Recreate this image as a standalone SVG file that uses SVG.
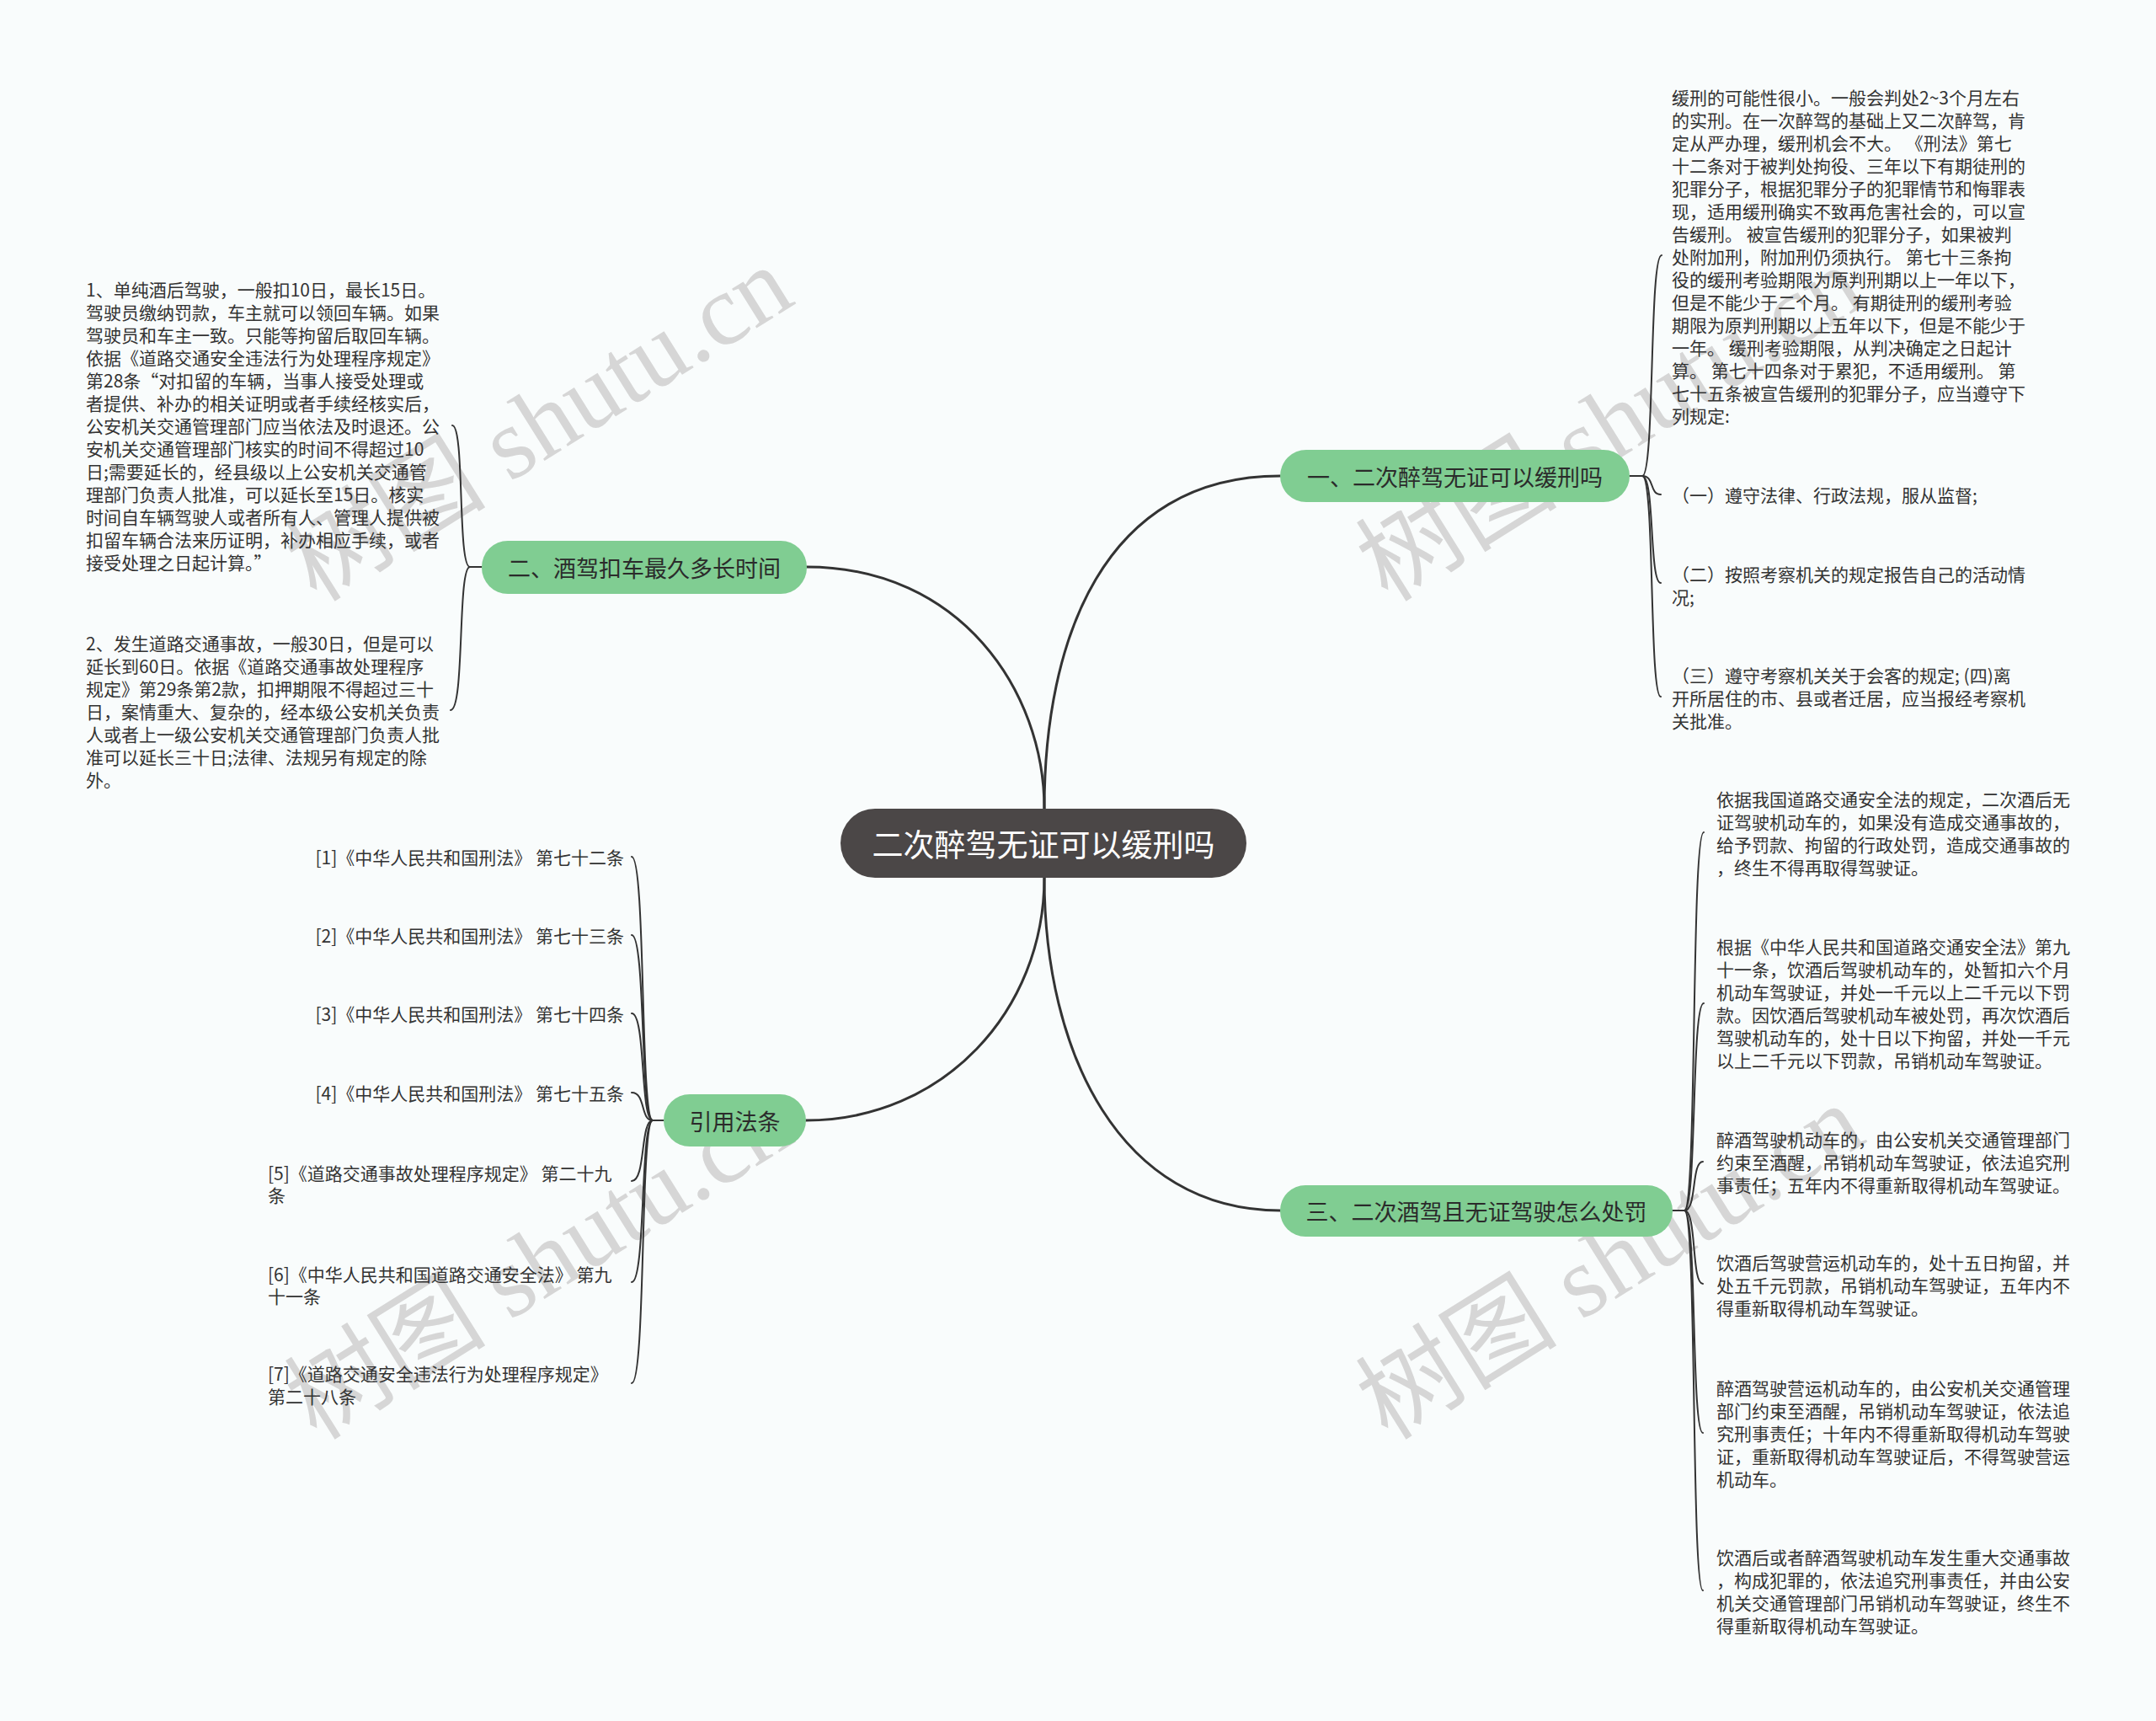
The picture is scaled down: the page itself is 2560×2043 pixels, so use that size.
<svg xmlns="http://www.w3.org/2000/svg" width="2560" height="2043" viewBox="0 0 2560 2043">
<style>
.bg{fill:#f9fcfc}
.wm{font-family:"Liberation Serif","Noto Sans CJK SC",serif;font-size:120px;fill:#d6d6d6}
.center{fill:#4b4747}
.ctext{font-family:"Noto Sans CJK SC",sans-serif;font-size:37px;fill:#ffffff;text-anchor:middle;dominant-baseline:central}
.main{fill:#80cd92}
.mtext{font-family:"Noto Sans CJK SC",sans-serif;font-size:27px;fill:#2b2b2b;text-anchor:middle;dominant-baseline:central}
.leaf{font-family:"Noto Sans CJK SC",sans-serif;font-size:21px;fill:#333333;dominant-baseline:central}
.c1{fill:none;stroke:#333333;stroke-width:3;stroke-linecap:round}
.c2{fill:none;stroke:#333333;stroke-width:2;stroke-linecap:round}
</style>
<rect class="bg" x="0" y="0" width="2560" height="2043"/>
<g id="watermarks">
<text class="wm" transform="translate(376,716) rotate(-32)">树图 shutu.cn</text>
<text class="wm" transform="translate(1648,716) rotate(-32)">树图 shutu.cn</text>
<text class="wm" transform="translate(376,1711) rotate(-32)">树图 shutu.cn</text>
<text class="wm" transform="translate(1648,1711) rotate(-32)">树图 shutu.cn</text>
</g>
<g id="connectors">
<path class="c1" d="M1240,960 C1240,760 1310,565 1520,565"/>
<path class="c1" d="M1240,960 C1240,820 1140,673 958,673"/>
<path class="c1" d="M1240,1042 C1240,1200 1120,1330 957,1330"/>
<path class="c1" d="M1240,1042 C1240,1250 1330,1437 1520,1437"/>
<path class="c2" d="M1935,565 L1950,565"/>
<path class="c2" d="M1950,565 C1965,565 1958,303 1973,303"/>
<path class="c2" d="M1950,565 C1965,565 1958,587 1972,587"/>
<path class="c2" d="M1950,565 C1965,565 1958,692 1972,692"/>
<path class="c2" d="M1950,565 C1965,565 1958,827 1972,827"/>
<path class="c2" d="M1986,1437 L2000,1437"/>
<path class="c2" d="M2000,1437 C2015,1437 2008,988 2023,988"/>
<path class="c2" d="M2000,1437 C2015,1437 2008,1191 2023,1191"/>
<path class="c2" d="M2000,1437 C2015,1437 2008,1379 2022,1379"/>
<path class="c2" d="M2000,1437 C2015,1437 2008,1524 2022,1524"/>
<path class="c2" d="M2000,1437 C2015,1437 2008,1701 2022,1701"/>
<path class="c2" d="M2000,1437 C2015,1437 2008,1888 2022,1888"/>
<path class="c2" d="M572,673 L558,673"/>
<path class="c2" d="M558,673 C543,673 552,505 537,505"/>
<path class="c2" d="M558,673 C543,673 552,843 535,843"/>
<path class="c2" d="M788,1330 L775,1330"/>
<path class="c2" d="M775,1330 C760,1330 767,1017 750,1017"/>
<path class="c2" d="M775,1330 C760,1330 767,1110 750,1110"/>
<path class="c2" d="M775,1330 C760,1330 767,1203 750,1203"/>
<path class="c2" d="M775,1330 C760,1330 767,1297 750,1297"/>
<path class="c2" d="M775,1330 C760,1330 767,1402 750,1402"/>
<path class="c2" d="M775,1330 C760,1330 767,1522 750,1522"/>
<path class="c2" d="M775,1330 C760,1330 767,1642 750,1642"/>
</g>
<g id="node-center">
<rect class="center" x="998" y="960" width="482" height="82" rx="41"/>
<text class="ctext" x="1239" y="1001">二次醉驾无证可以缓刑吗</text>
</g>
<g id="node-1">
<rect class="main" x="1520" y="534" width="415" height="62" rx="31"/>
<text class="mtext" x="1727.5" y="565">一、二次醉驾无证可以缓刑吗</text>
</g>
<g id="node-2">
<rect class="main" x="572" y="642" width="386" height="63" rx="31"/>
<text class="mtext" x="765" y="673">二、酒驾扣车最久多长时间</text>
</g>
<g id="node-3">
<rect class="main" x="1520" y="1407" width="466" height="61" rx="30"/>
<text class="mtext" x="1753" y="1437">三、二次酒驾且无证驾驶怎么处罚</text>
</g>
<g id="node-4">
<rect class="main" x="788" y="1299" width="169" height="62" rx="31"/>
<text class="mtext" x="872.5" y="1330">引用法条</text>
</g>
<g id="leaf-2-1">
<text class="leaf">
<tspan x="102" y="343">1、单纯酒后驾驶，一般扣10日，最长15日。</tspan>
<tspan x="102" y="370">驾驶员缴纳罚款，车主就可以领回车辆。如果</tspan>
<tspan x="102" y="397">驾驶员和车主一致。只能等拘留后取回车辆。</tspan>
<tspan x="102" y="424">依据《道路交通安全违法行为处理程序规定》</tspan>
<tspan x="102" y="451">第28条“对扣留的车辆，当事人接受处理或</tspan>
<tspan x="102" y="478">者提供、补办的相关证明或者手续经核实后，</tspan>
<tspan x="102" y="505">公安机关交通管理部门应当依法及时退还。公</tspan>
<tspan x="102" y="532">安机关交通管理部门核实的时间不得超过10</tspan>
<tspan x="102" y="559">日;需要延长的，经县级以上公安机关交通管</tspan>
<tspan x="102" y="586">理部门负责人批准，可以延长至15日。核实</tspan>
<tspan x="102" y="613">时间自车辆驾驶人或者所有人、管理人提供被</tspan>
<tspan x="102" y="640">扣留车辆合法来历证明，补办相应手续，或者</tspan>
<tspan x="102" y="667">接受处理之日起计算。”</tspan>
</text>
</g>
<g id="leaf-2-2">
<text class="leaf">
<tspan x="102" y="763">2、发生道路交通事故，一般30日，但是可以</tspan>
<tspan x="102" y="790">延长到60日。依据《道路交通事故处理程序</tspan>
<tspan x="102" y="817">规定》第29条第2款，扣押期限不得超过三十</tspan>
<tspan x="102" y="844">日，案情重大、复杂的，经本级公安机关负责</tspan>
<tspan x="102" y="871">人或者上一级公安机关交通管理部门负责人批</tspan>
<tspan x="102" y="898">准可以延长三十日;法律、法规另有规定的除</tspan>
<tspan x="102" y="925">外。</tspan>
</text>
</g>
<g id="leaf-1-1">
<text class="leaf">
<tspan x="1985" y="115">缓刑的可能性很小。一般会判处2~3个月左右</tspan>
<tspan x="1985" y="142">的实刑。在一次醉驾的基础上又二次醉驾，肯</tspan>
<tspan x="1985" y="169">定从严办理，缓刑机会不大。 《刑法》第七</tspan>
<tspan x="1985" y="196">十二条对于被判处拘役、三年以下有期徒刑的</tspan>
<tspan x="1985" y="223">犯罪分子，根据犯罪分子的犯罪情节和悔罪表</tspan>
<tspan x="1985" y="250">现，适用缓刑确实不致再危害社会的，可以宣</tspan>
<tspan x="1985" y="277">告缓刑。 被宣告缓刑的犯罪分子，如果被判</tspan>
<tspan x="1985" y="304">处附加刑，附加刑仍须执行。 第七十三条拘</tspan>
<tspan x="1985" y="331">役的缓刑考验期限为原判刑期以上一年以下，</tspan>
<tspan x="1985" y="358">但是不能少于二个月。 有期徒刑的缓刑考验</tspan>
<tspan x="1985" y="385">期限为原判刑期以上五年以下，但是不能少于</tspan>
<tspan x="1985" y="412">一年。 缓刑考验期限，从判决确定之日起计</tspan>
<tspan x="1985" y="439">算。 第七十四条对于累犯，不适用缓刑。 第</tspan>
<tspan x="1985" y="466">七十五条被宣告缓刑的犯罪分子，应当遵守下</tspan>
<tspan x="1985" y="493">列规定:</tspan>
</text>
</g>
<g id="leaf-1-2">
<text class="leaf"><tspan x="1985" y="587">（一）遵守法律、行政法规，服从监督;</tspan></text>
</g>
<g id="leaf-1-3">
<text class="leaf">
<tspan x="1985" y="681">（二）按照考察机关的规定报告自己的活动情</tspan>
<tspan x="1985" y="708">况;</tspan>
</text>
</g>
<g id="leaf-1-4">
<text class="leaf">
<tspan x="1985" y="801">（三）遵守考察机关关于会客的规定; (四)离</tspan>
<tspan x="1985" y="828">开所居住的市、县或者迁居，应当报经考察机</tspan>
<tspan x="1985" y="855">关批准。</tspan>
</text>
</g>
<g id="leaf-3-1">
<text class="leaf">
<tspan x="2038" y="948">依据我国道路交通安全法的规定，二次酒后无</tspan>
<tspan x="2038" y="975">证驾驶机动车的，如果没有造成交通事故的，</tspan>
<tspan x="2038" y="1002">给予罚款、拘留的行政处罚，造成交通事故的</tspan>
<tspan x="2038" y="1029">，终生不得再取得驾驶证。</tspan>
</text>
</g>
<g id="leaf-3-2">
<text class="leaf">
<tspan x="2038" y="1123">根据《中华人民共和国道路交通安全法》第九</tspan>
<tspan x="2038" y="1150">十一条，饮酒后驾驶机动车的，处暂扣六个月</tspan>
<tspan x="2038" y="1177">机动车驾驶证，并处一千元以上二千元以下罚</tspan>
<tspan x="2038" y="1204">款。因饮酒后驾驶机动车被处罚，再次饮酒后</tspan>
<tspan x="2038" y="1231">驾驶机动车的，处十日以下拘留，并处一千元</tspan>
<tspan x="2038" y="1258">以上二千元以下罚款，吊销机动车驾驶证。</tspan>
</text>
</g>
<g id="leaf-3-3">
<text class="leaf">
<tspan x="2038" y="1352">醉酒驾驶机动车的，由公安机关交通管理部门</tspan>
<tspan x="2038" y="1379">约束至酒醒，吊销机动车驾驶证，依法追究刑</tspan>
<tspan x="2038" y="1406">事责任；五年内不得重新取得机动车驾驶证。</tspan>
</text>
</g>
<g id="leaf-3-4">
<text class="leaf">
<tspan x="2038" y="1498">饮酒后驾驶营运机动车的，处十五日拘留，并</tspan>
<tspan x="2038" y="1525">处五千元罚款，吊销机动车驾驶证，五年内不</tspan>
<tspan x="2038" y="1552">得重新取得机动车驾驶证。</tspan>
</text>
</g>
<g id="leaf-3-5">
<text class="leaf">
<tspan x="2038" y="1647">醉酒驾驶营运机动车的，由公安机关交通管理</tspan>
<tspan x="2038" y="1674">部门约束至酒醒，吊销机动车驾驶证，依法追</tspan>
<tspan x="2038" y="1701">究刑事责任；十年内不得重新取得机动车驾驶</tspan>
<tspan x="2038" y="1728">证，重新取得机动车驾驶证后，不得驾驶营运</tspan>
<tspan x="2038" y="1755">机动车。</tspan>
</text>
</g>
<g id="leaf-3-6">
<text class="leaf">
<tspan x="2038" y="1848">饮酒后或者醉酒驾驶机动车发生重大交通事故</tspan>
<tspan x="2038" y="1875">，构成犯罪的，依法追究刑事责任，并由公安</tspan>
<tspan x="2038" y="1902">机关交通管理部门吊销机动车驾驶证，终生不</tspan>
<tspan x="2038" y="1929">得重新取得机动车驾驶证。</tspan>
</text>
</g>
<g id="cite-1"><text class="leaf" x="741" y="1017" text-anchor="end">[1]《中华人民共和国刑法》 第七十二条</text></g>
<g id="cite-2"><text class="leaf" x="741" y="1110" text-anchor="end">[2]《中华人民共和国刑法》 第七十三条</text></g>
<g id="cite-3"><text class="leaf" x="741" y="1203" text-anchor="end">[3]《中华人民共和国刑法》 第七十四条</text></g>
<g id="cite-4"><text class="leaf" x="741" y="1297" text-anchor="end">[4]《中华人民共和国刑法》 第七十五条</text></g>
<g id="cite-5">
<text class="leaf">
<tspan x="318" y="1392">[5]《道路交通事故处理程序规定》 第二十九</tspan>
<tspan x="318" y="1418">条</tspan>
</text>
</g>
<g id="cite-6">
<text class="leaf">
<tspan x="318" y="1512">[6]《中华人民共和国道路交通安全法》 第九</tspan>
<tspan x="318" y="1538">十一条</tspan>
</text>
</g>
<g id="cite-7">
<text class="leaf">
<tspan x="318" y="1630">[7]《道路交通安全违法行为处理程序规定》</tspan>
<tspan x="318" y="1657">第二十八条</tspan>
</text>
</g>
</svg>
